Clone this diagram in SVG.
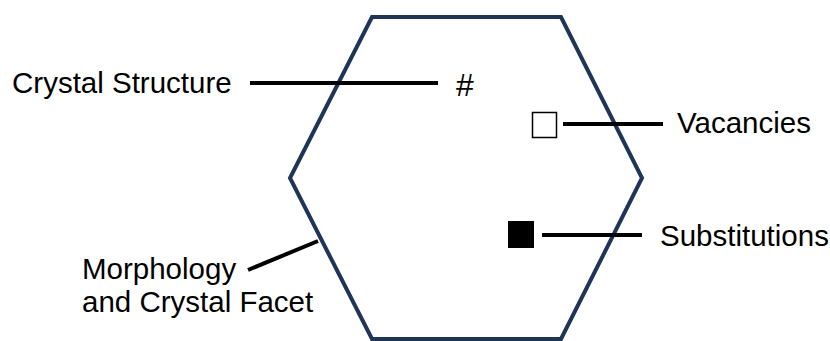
<svg xmlns="http://www.w3.org/2000/svg" width="830" height="341" viewBox="0 0 830 341">
<style>
.lbl{font-family:"Liberation Sans",Arial,Helvetica,sans-serif;font-size:29.5px;fill:#000}
.conn{stroke:#000;stroke-width:4;fill:none}
</style>
<rect width="830" height="341" fill="#fff"/>
<g id="crystal">
<polygon points="372,17 561,17 642,178 561,339 372,339 290,178" fill="none" stroke="#1f3557" stroke-width="4"/>
</g>
<g id="hash"><text class="lbl" x="456" y="96" style="font-size:32px">#</text></g>
<g id="vacancy"><rect x="532.5" y="112.5" width="24" height="25" fill="#fff" stroke="#000" stroke-width="1.5"/></g>
<g id="substitution"><rect x="508" y="221" width="26" height="27" fill="#000"/></g>
<g id="label-crystal-structure"><text class="lbl" x="12" y="93">Crystal Structure</text></g>
<g id="label-vacancies"><text class="lbl" x="677" y="133">Vacancies</text></g>
<g id="label-substitutions"><text class="lbl" x="660" y="246">Substitutions</text></g>
<g id="label-morphology"><text class="lbl" x="82" y="279">Morphology</text><text class="lbl" x="82" y="312">and Crystal Facet</text></g>
<g id="connectors">
<line class="conn" x1="250" y1="83" x2="438" y2="83"/>
<line class="conn" x1="563" y1="124" x2="663" y2="124"/>
<line class="conn" x1="542" y1="235" x2="642" y2="235"/>
<line class="conn" x1="248" y1="270" x2="318" y2="241"/>
</g>
</svg>
